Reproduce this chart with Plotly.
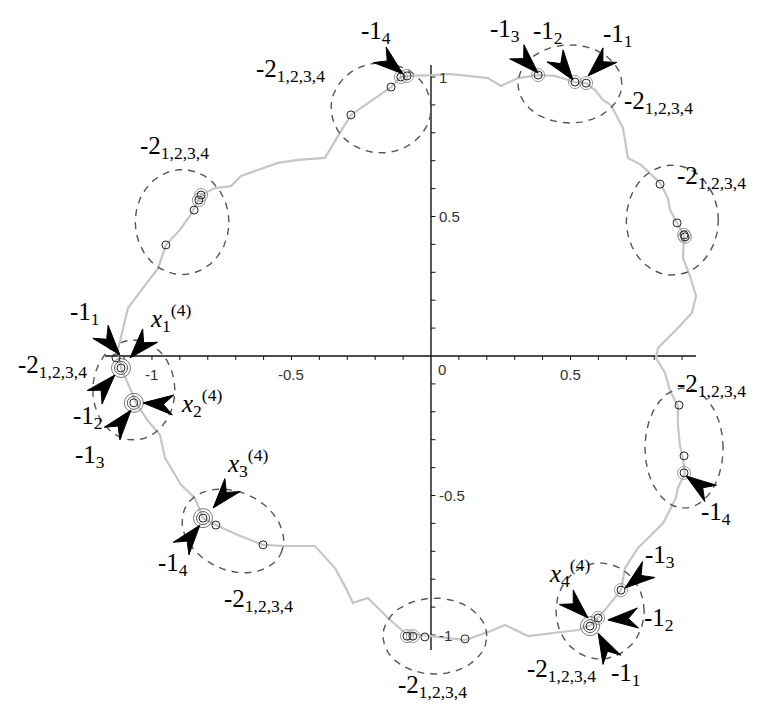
import numpy as np
import plotly.graph_objects as go

# ---------------- data ----------------
curve_x = [0.007, 0.061, 0.133, 0.204, 0.251, 0.312, 0.384, 0.444, 0.516, 0.556, 0.588, 0.616, 0.645, 0.681, 0.688,
           0.706, 0.753, 0.821, 0.849, 0.857, 0.882, 0.907, 0.903, 0.928, 0.950, 0.935, 0.878, 0.814, 0.806, 0.839,
           0.857, 0.885, 0.885, 0.892, 0.903, 0.910, 0.885, 0.878, 0.832, 0.778, 0.742, 0.695, 0.681, 0.624, 0.573,
           0.527, 0.444, 0.348, 0.265, 0.215, 0.122, 0.000, -0.093, -0.154, -0.226, -0.280, -0.305, -0.344, -0.416,
           -0.523, -0.602, -0.692, -0.771, -0.817, -0.846, -0.896, -0.953, -0.961, -0.971, -1.014, -1.057, -1.068,
           -1.111, -1.122, -1.104, -1.086, -1.032, -0.978, -0.950, -0.900, -0.864, -0.832, -0.824, -0.774, -0.717,
           -0.681, -0.620, -0.548, -0.477, -0.380, -0.333, -0.287, -0.143, -0.108, -0.086, 0.007]
curve_y = [1.007, 1.011, 1.004, 0.996, 0.968, 0.996, 1.007, 1.004, 0.982, 0.978, 0.953, 0.918, 0.900, 0.835, 0.817,
           0.710, 0.685, 0.620, 0.566, 0.523, 0.477, 0.430, 0.351, 0.287, 0.215, 0.154, 0.093, 0.029, -0.007, -0.061,
           -0.125, -0.179, -0.247, -0.319, -0.366, -0.419, -0.473, -0.509, -0.599, -0.652, -0.688, -0.760, -0.839,
           -0.910, -0.964, -0.982, -0.993, -1.004, -0.964, -0.986, -1.018, -1.004, -0.993, -0.939, -0.867, -0.885,
           -0.832, -0.760, -0.681, -0.681, -0.677, -0.642, -0.606, -0.581, -0.509, -0.462, -0.366, -0.330, -0.283,
           -0.233, -0.168, -0.140, -0.043, 0.022, 0.100, 0.172, 0.244, 0.315, 0.398, 0.452, 0.502, 0.559, 0.577,
           0.602, 0.609, 0.645, 0.667, 0.692, 0.703, 0.710, 0.789, 0.864, 0.964, 1.000, 1.004, 1.007]

# plain iterate points (-2 preimages)
plain_x = [-0.287, -0.143, -0.950, -0.849, 0.821, 0.882, 0.889, 0.907, -0.022, 0.122, -0.771, -0.602, -1.129]
plain_y = [0.864, 0.964, 0.398, 0.523, 0.616, 0.477, -0.176, -0.358, -1.007, -1.014, -0.606, -0.677, -0.007]

# ringed points (-1 preimages)
ring_x = [0.384, 0.516, 0.556, -0.108, -0.086, -0.832, -0.824, 0.907, 0.910, 0.907, 0.681, 0.599, -0.086, -0.065]
ring_y = [1.007, 0.982, 0.978, 1.000, 1.004, 0.559, 0.577, 0.434, 0.427, -0.419, -0.839, -0.939, -1.004, -1.004]

# period-4 points x_k^(4)
per4_x = [-1.111, -1.065, -0.817, 0.570]
per4_y = [-0.043, -0.168, -0.581, -0.968]

# dashed ellipses: centre x, centre y, semi-axis a, semi-axis b, tilt (deg)
ell_cx = [0.498, 0.865, 0.907, 0.606, 0.014, -0.710, -1.065, -0.892, -0.179]
ell_cy = [0.975, 0.487, -0.330, -0.914, -1.004, -0.627, -0.122, 0.480, 0.889]
ell_a = [0.186, 0.165, 0.140, 0.158, 0.186, 0.190, 0.147, 0.168, 0.179]
ell_b = [0.140, 0.197, 0.215, 0.172, 0.136, 0.140, 0.179, 0.188, 0.161]
ell_t = [0, 0, 0, 0, 0, -25, 0, 0, 0]

# labels
lab_text = ["-1<sub>1</sub>", "<i>x</i><sub>1</sub><sup>(4)</sup>", "-2<sub>1,2,3,4</sub>", "-1<sub>2</sub>",
            "<i>x</i><sub>2</sub><sup>(4)</sup>", "-1<sub>3</sub>",
            "-1<sub>4</sub>", "-2<sub>1,2,3,4</sub>",
            "-1<sub>3</sub>", "-1<sub>2</sub>", "-1<sub>1</sub>", "-2<sub>1,2,3,4</sub>",
            "-2<sub>1,2,3,4</sub>", "-2<sub>1,2,3,4</sub>", "-1<sub>4</sub>",
            "-1<sub>3</sub>", "<i>x</i><sub>4</sub><sup>(4)</sup>", "-1<sub>2</sub>", "-1<sub>1</sub>",
            "-2<sub>1,2,3,4</sub>", "-2<sub>1,2,3,4</sub>",
            "<i>x</i><sub>3</sub><sup>(4)</sup>", "-1<sub>4</sub>", "-2<sub>1,2,3,4</sub>", "-2<sub>1,2,3,4</sub>"]
lab_x = [-1.240, -0.935, -1.358, -1.229, -0.824, -1.222, -0.197, -0.502, 0.265, 0.419, 0.670, 0.817,
         0.875, 0.875, 1.022, 0.821, 0.498, 0.817, 0.699, 0.466, 0.004, -0.656, -0.925, -0.620, -0.918]
lab_y = [0.154, 0.136, -0.036, -0.222, -0.168, -0.360, 1.158, 1.022, 1.165, 1.158, 1.147, 0.907,
         0.638, -0.104, -0.563, -0.717, -0.778, -0.946, -1.143, -1.129, -1.185, -0.384, -0.749, -0.878, 0.746]
lab_xanchor = ["center"] * 12 + ["left", "left"] + ["center"] * 11

# arrows: tip and back point
arr_tip_x = [-1.115, -1.079, -1.133, -1.032, -1.075, -0.100, 0.384, 0.509, 0.563, 0.914, 0.695, 0.563, 0.634, 0.599, -0.781, -0.828]
arr_tip_y = [0.004, -0.007, -0.068, -0.168, -0.194, 1.011, 1.014, 0.989, 1.004, -0.430, -0.832, -0.939, -0.946, -0.993, -0.545, -0.606]
arr_back_x = [-1.190, -1.014, -1.201, -0.918, -1.147, -0.183, 0.312, 0.437, 0.645, 1.000, 0.778, 0.477, 0.742, 0.645, -0.720, -0.885]
arr_back_y = [0.093, 0.065, -0.143, -0.176, -0.283, 1.079, 1.086, 1.086, 1.082, -0.491, -0.767, -0.857, -0.939, -1.082, -0.473, -0.677]

# axes
x_axis_range = [-1.168, 0.95]
y_axis_range = [-1.054, 1.043]
x_tick_vals = [-1.0, -0.5, 0.5]
x_tick_text = ["-1", "-0.5", "0.5"]
y_tick_vals = [1.0, 0.5, -0.5, -1.0]
y_tick_text = ["1", "0.5", "-0.5", "-1"]

# ---------------- figure ----------------
fig = go.Figure()

# axes lines
fig.add_trace(go.Scatter(x=[x_axis_range[0], x_axis_range[1], None, 0, 0],
                         y=[0, 0, None, y_axis_range[0], y_axis_range[1]],
                         mode="lines", line=dict(color="#111", width=1.4), hoverinfo="skip"))
# minor ticks
tx, ty = [], []
for k in range(-11, 10):
    v = k / 10
    if k == 0:
        continue
    tx += [v, v, None]
    ty += [0, -0.014, None]
for k in range(-10, 11):
    v = k / 10
    if k == 0:
        continue
    tx += [0, 0.016, None]
    ty += [v, v, None]
fig.add_trace(go.Scatter(x=tx, y=ty, mode="lines", line=dict(color="#111", width=1), hoverinfo="skip"))

# curve
fig.add_trace(go.Scatter(x=curve_x, y=curve_y, mode="lines",
                         line=dict(color="#c6c6c6", width=2.2), hoverinfo="skip"))

# ellipses
t = np.linspace(0, 2 * np.pi, 200)
ex, ey = [], []
for cx, cy, a, b, th in zip(ell_cx, ell_cy, ell_a, ell_b, ell_t):
    r = np.deg2rad(th)
    xs = cx + a * np.cos(t) * np.cos(r) - b * np.sin(t) * np.sin(r)
    ys = cy + a * np.cos(t) * np.sin(r) + b * np.sin(t) * np.cos(r)
    ex += list(xs) + [None]
    ey += list(ys) + [None]
fig.add_trace(go.Scatter(x=ex, y=ey, mode="lines",
                         line=dict(color="#555", width=1.4, dash="7px,6px"), hoverinfo="skip"))

# points
fig.add_trace(go.Scatter(x=ring_x, y=ring_y, mode="markers",
                         marker=dict(symbol="circle-open", size=13, color="#999", line=dict(width=1)), hoverinfo="skip"))
fig.add_trace(go.Scatter(x=per4_x, y=per4_y, mode="markers",
                         marker=dict(symbol="circle-open", size=19, color="#777", line=dict(width=1)), hoverinfo="skip"))
fig.add_trace(go.Scatter(x=per4_x, y=per4_y, mode="markers",
                         marker=dict(symbol="circle-open", size=13, color="#555", line=dict(width=1)), hoverinfo="skip"))
fig.add_trace(go.Scatter(x=plain_x + ring_x + per4_x, y=plain_y + ring_y + per4_y, mode="markers",
                         marker=dict(symbol="circle-open", size=8, color="#222", line=dict(width=1)), hoverinfo="skip"))

# arrows (filled notched heads)
AL, AW, NOTCH = 0.108, 0.036, 0.32
axs, ays = [], []
for tx_, ty_, bx_, by_ in zip(arr_tip_x, arr_tip_y, arr_back_x, arr_back_y):
    dx, dy = tx_ - bx_, ty_ - by_
    n = np.hypot(dx, dy)
    ux, uy = dx / n, dy / n
    px_, py_ = -uy, ux
    bcx, bcy = tx_ - AL * ux, ty_ - AL * uy
    nx_, ny_ = tx_ - (1 - NOTCH) * AL * ux, ty_ - (1 - NOTCH) * AL * uy
    axs += [tx_, bcx + AW * px_, nx_, bcx - AW * px_, tx_, None]
    ays += [ty_, bcy + AW * py_, ny_, bcy - AW * py_, ty_, None]
fig.add_trace(go.Scatter(x=axs, y=ays, mode="lines", fill="toself", fillcolor="#000",
                         line=dict(color="#000", width=1), hoverinfo="skip"))

annotations = []
for s, x, y, xa in zip(lab_text, lab_x, lab_y, lab_xanchor):
    annotations.append(dict(x=x, y=y, xref="x", yref="y", text=s, showarrow=False,
                            font=dict(family="Liberation Serif", size=25, color="#000"),
                            xanchor=xa, yanchor="middle"))
for v, s in zip(x_tick_vals, x_tick_text):
    annotations.append(dict(x=v, y=-0.028, xref="x", yref="y", text=s, showarrow=False,
                            font=dict(family="Liberation Sans", size=15, color="#333"),
                            xanchor="center", yanchor="top"))
annotations.append(dict(x=0.018, y=-0.012, xref="x", yref="y", text="0", showarrow=False,
                        font=dict(family="Liberation Sans", size=15, color="#333"),
                        xanchor="left", yanchor="top"))
for v, s in zip(y_tick_vals, y_tick_text):
    annotations.append(dict(x=0.022, y=v, xref="x", yref="y", text=s, showarrow=False,
                            font=dict(family="Liberation Sans", size=15, color="#333"),
                            xanchor="left", yanchor="middle"))

fig.update_layout(
    width=758, height=704,
    margin=dict(l=0, r=0, t=0, b=0),
    paper_bgcolor="white", plot_bgcolor="white",
    showlegend=False,
    xaxis=dict(range=[-1.516, 1.2007], visible=False, fixedrange=True),
    yaxis=dict(range=[-1.276, 1.2473], visible=False, fixedrange=True),
    annotations=annotations,
)

fig.write_html("out.html")
